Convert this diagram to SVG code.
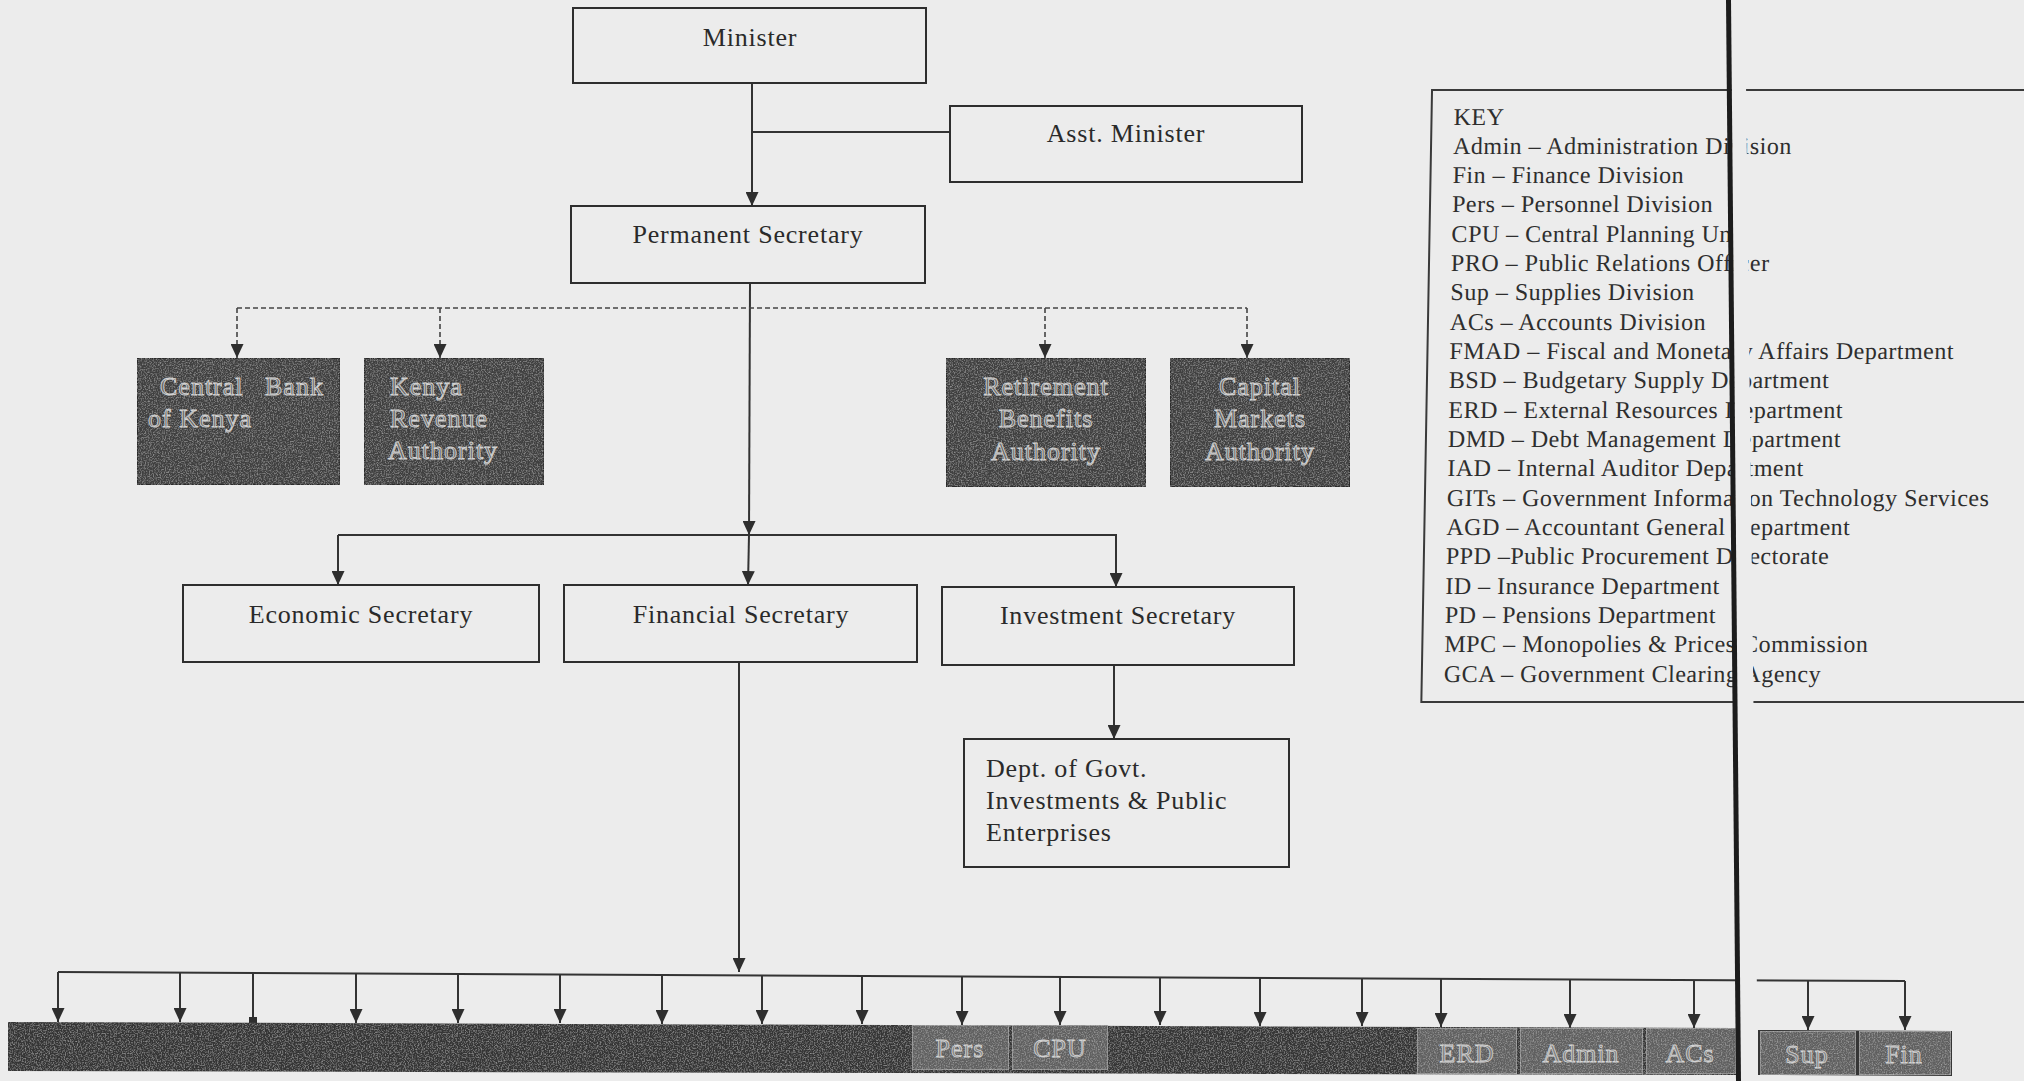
<svg xmlns="http://www.w3.org/2000/svg" width="2024" height="1081" viewBox="0 0 2024 1081">
<style>
.bx{fill:none;stroke:#2e2e2e;stroke-width:2}
.lb{font-family:"Liberation Serif","Times New Roman",serif;font-size:26px;letter-spacing:0.8px;fill:#2a2a2a}
.ky{font-family:"Liberation Serif","Times New Roman",serif;font-size:24px;letter-spacing:0.5px;fill:#2e2e2e}
.dk{fill:#404040;stroke:#2a2a2a;stroke-width:2}
.dt{font-family:"Liberation Serif","Times New Roman",serif;font-size:26px;letter-spacing:1px;fill:#666;stroke:#d2d2d2;stroke-width:0.9}
.gb{fill:#616161;stroke:#a0a0a0;stroke-width:1.5}
.gt{font-family:"Liberation Serif","Times New Roman",serif;font-size:26px;letter-spacing:1px;fill:#7e7e7e;stroke:#d4d4d4;stroke-width:0.8;text-anchor:middle}
.ln{fill:none;stroke:#333;stroke-width:2}
.ds{fill:none;stroke:#444;stroke-width:1.6;stroke-dasharray:5 3}
</style>
<defs>
<marker id="ah" viewBox="0 0 14 13" refX="14" refY="6.5" markerWidth="14" markerHeight="13" markerUnits="userSpaceOnUse" orient="auto">
<path d="M0,0 L14,6.5 L0,13 z" fill="#2e2e2e"/>
</marker>
<filter id="grain" x="0" y="0" width="1" height="1">
<feTurbulence type="fractalNoise" baseFrequency="0.75" numOctaves="2" seed="4" result="n"/>
<feColorMatrix in="n" type="matrix" values="0 0 0 0 1  0 0 0 0 1  0 0 0 0 1  0.6 0 0 0 -0.27" result="w"/>
<feComposite in="w" in2="SourceGraphic" operator="in" result="wm"/>
<feMerge><feMergeNode in="SourceGraphic"/><feMergeNode in="wm"/></feMerge>
</filter>
</defs>
<rect x="0" y="0" width="2024" height="1081" fill="#ececec"/>

<g id="connectors">
<line class="ln" x1="752" y1="83" x2="752" y2="206" marker-end="url(#ah)"/>
<line class="ln" x1="752" y1="132" x2="950" y2="132"/>
<line class="ln" x1="750" y1="283" x2="749" y2="535" marker-end="url(#ah)"/>
<line class="ln" x1="749" y1="535" x2="748" y2="585" marker-end="url(#ah)"/>
<line class="ds" x1="237" y1="308" x2="1247" y2="308"/>
<line class="ds" x1="237" y1="308" x2="237" y2="358" marker-end="url(#ah)"/>
<line class="ds" x1="440" y1="308" x2="440" y2="358" marker-end="url(#ah)"/>
<line class="ds" x1="1045" y1="308" x2="1045" y2="358" marker-end="url(#ah)"/>
<line class="ds" x1="1247" y1="308" x2="1247" y2="358" marker-end="url(#ah)"/>
<polyline class="ln" points="338,535 1116,535 1116,587" marker-end="url(#ah)"/>
<line class="ln" x1="338" y1="535" x2="338" y2="585" marker-end="url(#ah)"/>
<line class="ln" x1="1114" y1="665" x2="1114" y2="739" marker-end="url(#ah)"/>
<line class="ln" x1="739" y1="662" x2="739" y2="972" marker-end="url(#ah)"/>
<line class="ln" x1="58" y1="972" x2="1905" y2="981"/>
<line class="ln" x1="58" y1="972" x2="58" y2="1022" marker-end="url(#ah)"/>
<line class="ln" x1="180" y1="973" x2="180" y2="1022" marker-end="url(#ah)"/>
<line class="ln" x1="253" y1="973" x2="253" y2="1020"/>
<rect x="249" y="1017" width="8" height="6" fill="#2e2e2e"/>
<line class="ln" x1="356" y1="973" x2="356" y2="1023" marker-end="url(#ah)"/>
<line class="ln" x1="458" y1="974" x2="458" y2="1023" marker-end="url(#ah)"/>
<line class="ln" x1="560" y1="974" x2="560" y2="1023" marker-end="url(#ah)"/>
<line class="ln" x1="662" y1="975" x2="662" y2="1024" marker-end="url(#ah)"/>
<line class="ln" x1="762" y1="975" x2="762" y2="1024" marker-end="url(#ah)"/>
<line class="ln" x1="862" y1="976" x2="862" y2="1024" marker-end="url(#ah)"/>
<line class="ln" x1="962" y1="976" x2="962" y2="1025" marker-end="url(#ah)"/>
<line class="ln" x1="1060" y1="977" x2="1060" y2="1025" marker-end="url(#ah)"/>
<line class="ln" x1="1160" y1="977" x2="1160" y2="1025" marker-end="url(#ah)"/>
<line class="ln" x1="1260" y1="978" x2="1260" y2="1026" marker-end="url(#ah)"/>
<line class="ln" x1="1362" y1="978" x2="1362" y2="1026" marker-end="url(#ah)"/>
<line class="ln" x1="1441" y1="978" x2="1441" y2="1027" marker-end="url(#ah)"/>
<line class="ln" x1="1570" y1="979" x2="1570" y2="1028" marker-end="url(#ah)"/>
<line class="ln" x1="1694" y1="980" x2="1694" y2="1028" marker-end="url(#ah)"/>
<line class="ln" x1="1808" y1="980" x2="1808" y2="1030" marker-end="url(#ah)"/>
<line class="ln" x1="1905" y1="981" x2="1905" y2="1030" marker-end="url(#ah)"/>
</g>

<g id="minister"><rect class="bx" x="573" y="8" width="353" height="75"/><text class="lb" x="750" y="46" text-anchor="middle">Minister</text></g>
<g id="asst-minister"><rect class="bx" x="950" y="106" width="352" height="76"/><text class="lb" x="1126" y="142" text-anchor="middle">Asst. Minister</text></g>
<g id="permanent-secretary"><rect class="bx" x="571" y="206" width="354" height="77"/><text class="lb" x="748" y="243" text-anchor="middle">Permanent Secretary</text></g>

<g id="central-bank"><rect class="dk" x="137" y="358" width="203" height="127" filter="url(#grain)"/><text class="dt" x="160" y="395" word-spacing="14">Central Bank</text><text class="dt" x="148" y="427">of Kenya</text></g>
<g id="kenya-revenue"><rect class="dk" x="364" y="358" width="180" height="127" filter="url(#grain)"/><text class="dt" x="390" y="395">Kenya</text><text class="dt" x="390" y="427">Revenue</text><text class="dt" x="388" y="459">Authority</text></g>
<g id="retirement-benefits"><rect class="dk" x="946" y="358" width="200" height="129" filter="url(#grain)"/><text class="dt" x="1046" y="395" text-anchor="middle">Retirement</text><text class="dt" x="1046" y="427" text-anchor="middle">Benefits</text><text class="dt" x="1046" y="460" text-anchor="middle">Authority</text></g>
<g id="capital-markets"><rect class="dk" x="1170" y="358" width="180" height="129" filter="url(#grain)"/><text class="dt" x="1260" y="395" text-anchor="middle">Capital</text><text class="dt" x="1260" y="427" text-anchor="middle">Markets</text><text class="dt" x="1260" y="460" text-anchor="middle">Authority</text></g>

<g id="economic-secretary"><rect class="bx" x="183" y="585" width="356" height="77"/><text class="lb" x="361" y="623" text-anchor="middle">Economic Secretary</text></g>
<g id="financial-secretary"><rect class="bx" x="564" y="585" width="353" height="77"/><text class="lb" x="741" y="623" text-anchor="middle">Financial Secretary</text></g>
<g id="investment-secretary"><rect class="bx" x="942" y="587" width="352" height="78"/><text class="lb" x="1118" y="624" text-anchor="middle">Investment Secretary</text></g>
<g id="dept-govt-investments"><rect class="bx" x="964" y="739" width="325" height="128"/><text class="lb" x="986" y="777">Dept. of Govt.</text><text class="lb" x="986" y="809">Investments &amp; Public</text><text class="lb" x="986" y="841">Enterprises</text></g>

<g id="divisions">
<polygon points="8,1022 1736,1028 1736,1075 8,1071" fill="#363636" filter="url(#grain)"/>
<rect class="gb" x="912" y="1025" width="97" height="45" filter="url(#grain)"/><text class="gt" x="960" y="1057">Pers</text>
<rect class="gb" x="1012" y="1025" width="96" height="45" filter="url(#grain)"/><text class="gt" x="1060" y="1057">CPU</text>
<rect class="gb" x="1417" y="1028" width="100" height="46" filter="url(#grain)"/><text class="gt" x="1467" y="1062">ERD</text>
<rect class="gb" x="1520" y="1028" width="123" height="46" filter="url(#grain)"/><text class="gt" x="1581" y="1062">Admin</text>
<rect class="gb" x="1646" y="1028" width="90" height="46" filter="url(#grain)"/><text class="gt" x="1690" y="1062">ACs</text>
<polygon points="1758,1030 1952,1031 1952,1076 1758,1075" fill="#363636"/>
<rect class="gb" x="1760" y="1031" width="96" height="44" filter="url(#grain)"/><text class="gt" x="1807" y="1063">Sup</text>
<rect class="gb" x="1859" y="1031" width="92" height="44" filter="url(#grain)"/><text class="gt" x="1904" y="1063">Fin</text>
</g>

<g id="key" transform="translate(1.6,0) skewX(-1)">
<rect x="1432" y="90" width="700" height="612" fill="none" stroke="#3a3a3a" stroke-width="2"/>
<text class="ky" x="1454" y="125">KEY</text>
<text class="ky" x="1454" y="154">Admin – Administration Division</text>
<text class="ky" x="1454" y="183">Fin – Finance Division</text>
<text class="ky" x="1454" y="212">Pers – Personnel Division</text>
<text class="ky" x="1454" y="242">CPU – Central Planning Unit</text>
<text class="ky" x="1454" y="271">PRO – Public Relations Officer</text>
<text class="ky" x="1454" y="300">Sup – Supplies Division</text>
<text class="ky" x="1454" y="330">ACs – Accounts Division</text>
<text class="ky" x="1454" y="359">FMAD – Fiscal and Monetary Affairs Department</text>
<text class="ky" x="1454" y="388">BSD – Budgetary Supply Department</text>
<text class="ky" x="1454" y="418">ERD – External Resources Department</text>
<text class="ky" x="1454" y="447">DMD – Debt Management Department</text>
<text class="ky" x="1454" y="476">IAD – Internal Auditor Department</text>
<text class="ky" x="1454" y="506">GITs – Government Information Technology Services</text>
<text class="ky" x="1454" y="535">AGD – Accountant General Department</text>
<text class="ky" x="1454" y="564">PPD –Public Procurement Directorate</text>
<text class="ky" x="1454" y="594">ID – Insurance Department</text>
<text class="ky" x="1454" y="623">PD – Pensions Department</text>
<text class="ky" x="1454" y="652">MPC – Monopolies &amp; Prices Commission</text>
<text class="ky" x="1454" y="682">GCA – Government Clearing Agency</text>
</g>

<g id="scan-seam">
<polygon points="1731,0 1745,0 1758,1081 1740,1081" fill="#ececec"/>
<polygon points="1726,0 1731,0 1741,1081 1736,1081" fill="#1c1c1c"/>
</g>
</svg>
